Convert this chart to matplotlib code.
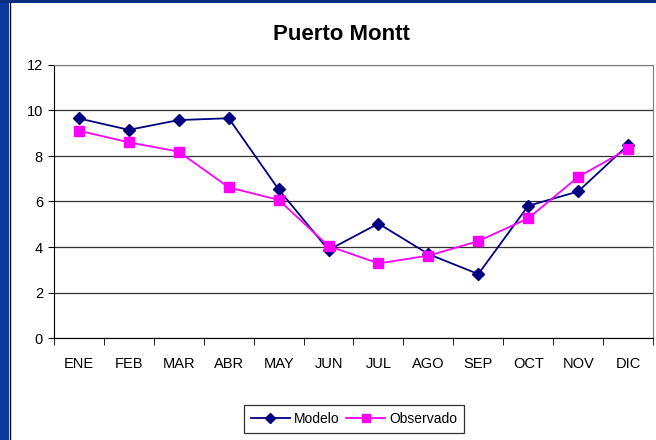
import matplotlib
matplotlib.use("Agg")
import matplotlib.pyplot as plt
from matplotlib.patches import Rectangle
from matplotlib.lines import Line2D
import numpy as np

plt.rcParams['font.family'] = ['Liberation Sans', 'DejaVu Sans']

meses = ['ENE', 'FEB', 'MAR', 'ABR', 'MAY', 'JUN', 'JUL', 'AGO', 'SEP', 'OCT', 'NOV', 'DIC']
modelo = [9.65, 9.15, 9.58, 9.66, 6.53, 3.87, 5.03, 3.69, 2.81, 5.81, 6.44, 8.48]
observado = [9.11, 8.60, 8.19, 6.62, 6.07, 4.04, 3.28, 3.62, 4.26, 5.26, 7.08, 8.31]

fig = plt.figure(figsize=(6.56, 4.40), dpi=100)
fig.patch.set_facecolor('white')

# blue frame (left and top)
fig.patches.append(Rectangle((0, 0), 9 / 656, 1, transform=fig.transFigure,
                             facecolor='#0b3a9c', edgecolor='none', zorder=0))
fig.patches.append(Rectangle((0, 1 - 3 / 440), 1, 3 / 440, transform=fig.transFigure,
                             facecolor='#0b2f80', edgecolor='none', zorder=0))
fig.lines.append(Line2D([9.5 / 656, 9.5 / 656], [0, 1 - 3 / 440], transform=fig.transFigure,
                        color='black', lw=1))

ax = fig.add_axes([54 / 656, (440 - 338) / 440, (653 - 54) / 656, (338 - 65) / 440])

x = np.arange(len(meses))
ax.plot(x, modelo, color='#000080', lw=1.3, marker='D', ms=6.5, label='Modelo', zorder=3)
ax.plot(x, observado, color='#ff00ff', lw=1.3, marker='s', ms=7, label='Observado', zorder=3)

ax.set_xlim(-0.5, len(meses) - 0.5)
ax.set_ylim(0, 12)
ax.set_yticks(range(0, 13, 2))
ax.set_xticks(x)
ax.set_xticklabels(meses, fontsize=10.5)
ax.set_xticks(np.arange(-0.5, len(meses)), minor=True)
ax.tick_params(axis='x', which='major', length=0, pad=14)
ax.tick_params(axis='x', which='minor', length=5, direction='out', color='black')
ax.tick_params(axis='y', length=4, direction='out', labelsize=10.5, pad=4)
ax.yaxis.grid(True, color='#333333', lw=0.9)
ax.set_axisbelow(True)
for s in ['top', 'right']:
    ax.spines[s].set_color('#808080')
for s in ['left', 'bottom']:
    ax.spines[s].set_color('black')

fig.text(341 / 656, 1 - 35 / 440, 'Puerto Montt', ha='center', va='center',
         fontsize=16, fontweight='bold')

leg = fig.legend(loc='center', bbox_to_anchor=(354 / 656, 1 - 419 / 440), ncol=2,
                 fontsize=10, frameon=True, fancybox=False, handlelength=2.8,
                 columnspacing=0.5, handletextpad=0.3, borderpad=0.5,
                 markerscale=0.8)
leg.get_frame().set_edgecolor('black')
leg.get_frame().set_linewidth(0.9)

fig.savefig('out.png', dpi=100)
